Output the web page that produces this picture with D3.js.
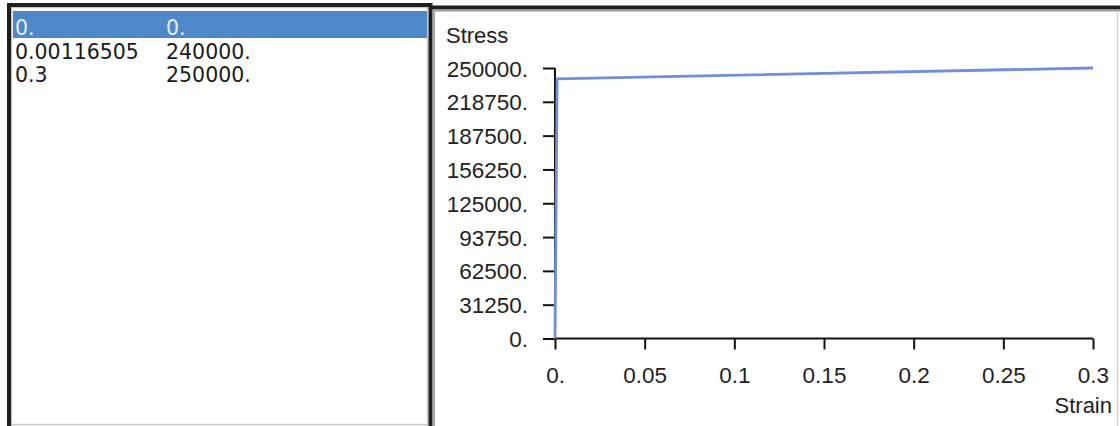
<!DOCTYPE html>
<html><head><meta charset="utf-8">
<script src="https://cdn.jsdelivr.net/npm/d3@7"></script>
<style>html,body{margin:0;padding:0;background:#fff;overflow:hidden}</style>
</head><body>
<svg id="c" width="1120" height="426"></svg>
<script>
// Data
const strain = [0, 0.00116505, 0.3];
const stress = [0, 240000, 250000];
const strainLabels = ["0.", "0.00116505", "0.3"];
const stressLabels = ["0.", "240000.", "250000."];
const xTicks = [0, 0.05, 0.1, 0.15, 0.2, 0.25, 0.3];
const xTickLabels = ["0.", "0.05", "0.1", "0.15", "0.2", "0.25", "0.3"];
const yTicks = [0, 31250, 62500, 93750, 125000, 156250, 187500, 218750, 250000];
const yTickLabels = ["0.", "31250.", "62500.", "93750.", "125000.", "156250.", "187500.", "218750.", "250000."];

const svg = d3.select("#c");
svg.append("rect").attr("width",1120).attr("height",426).attr("fill","#fff");

// ---- Left panel (table) ----
const L = svg.append("g");
L.append("rect").attr("x",11).attr("y",7).attr("width",417).attr("height",417).attr("fill","#fff");
L.append("path").attr("d","M11.5,426 V7.5 H427.5 V426").attr("fill","none").attr("stroke","#c8c8cc").attr("stroke-width",1.5);
L.append("line").attr("x1",11).attr("x2",428).attr("y1",424.5).attr("y2",424.5).attr("stroke","#c8c8cc").attr("stroke-width",1.5);
L.append("path").attr("d","M9,426 V5 H430.5 V426").attr("fill","none").attr("stroke","#1e1e1e").attr("stroke-width",4);
L.append("rect").attr("x",13).attr("y",11).attr("width",414).attr("height",27).attr("fill","#4f88c8");
const rowY = [35, 59, 82];
strain.forEach((d,i)=>{
  const col = i===0 ? "#e3eefa" : "#1a1a1a";
  L.append("text").attr("x",15).attr("y",rowY[i]).attr("font-family","DejaVu Sans").attr("font-size",20.5).attr("fill",col).text(strainLabels[i]);
  L.append("text").attr("x",166).attr("y",rowY[i]).attr("font-family","DejaVu Sans").attr("font-size",20.5).attr("fill",col).text(stressLabels[i]);
});

// ---- Right panel (chart) ----
const R = svg.append("g");
R.append("line").attr("x1",430).attr("x2",1120).attr("y1",7.5).attr("y2",7.5).attr("stroke","#1e1e1e").attr("stroke-width",4);
R.append("line").attr("x1",433).attr("x2",1120).attr("y1",10.5).attr("y2",10.5).attr("stroke","#9a9a9a").attr("stroke-width",2);
R.append("line").attr("x1",434).attr("x2",434).attr("y1",10).attr("y2",426).attr("stroke","#a8a8a8").attr("stroke-width",2);
R.append("line").attr("x1",1117.5).attr("x2",1117.5).attr("y1",11).attr("y2",426).attr("stroke","#d4d4d4").attr("stroke-width",1.5);

const x = d3.scaleLinear().domain([0,0.3]).range([555,1093]);
const y = d3.scaleLinear().domain([0,250000]).range([338.5,68]);

const font = "Liberation Sans, Arial, sans-serif";
const fs = 22.5;
// Y axis
const yAxis = d3.axisLeft(y).tickValues(yTicks).tickFormat((d,i)=>yTickLabels[i]).tickSize(12).tickPadding(15);
const gy = R.append("g").attr("transform","translate(555,0)").call(yAxis);
gy.select(".domain").attr("d","M0,68 V338.5").attr("stroke","#111").attr("stroke-width",2);
gy.selectAll(".tick line").attr("stroke","#111").attr("stroke-width",2);
gy.selectAll(".tick text").attr("font-family",font).attr("font-size",fs).attr("fill","#222").attr("dy","0.36em");

// X axis
const xAxis = d3.axisBottom(x).tickValues(xTicks).tickFormat((d,i)=>xTickLabels[i]).tickSize(11).tickPadding(20);
const gx = R.append("g").attr("transform","translate(0,338.5)").call(xAxis);
gx.select(".domain").attr("d","M555,0 H1093").attr("stroke","#111").attr("stroke-width",2);
gx.selectAll(".tick line").attr("stroke","#111").attr("stroke-width",2);
gx.selectAll(".tick text").attr("font-family",font).attr("font-size",fs).attr("fill","#222").attr("dy","0.62em");

// Axis titles
R.append("text").attr("x",446).attr("y",43).attr("font-family",font).attr("font-size",22).attr("fill","#222").text("Stress");
R.append("text").attr("x",1112).attr("y",413).attr("text-anchor","end").attr("font-family",font).attr("font-size",22).attr("fill","#222").text("Strain");

// Data line
const pts = strain.map((s,i)=>[s,stress[i]]);
R.append("path").datum(pts)
  .attr("d", d3.line().x(d=>x(d[0])).y(d=>y(d[1])))
  .attr("fill","none").attr("stroke","#6f8fd6").attr("stroke-width",2.8).attr("stroke-linejoin","miter");
</script>
</body></html>
